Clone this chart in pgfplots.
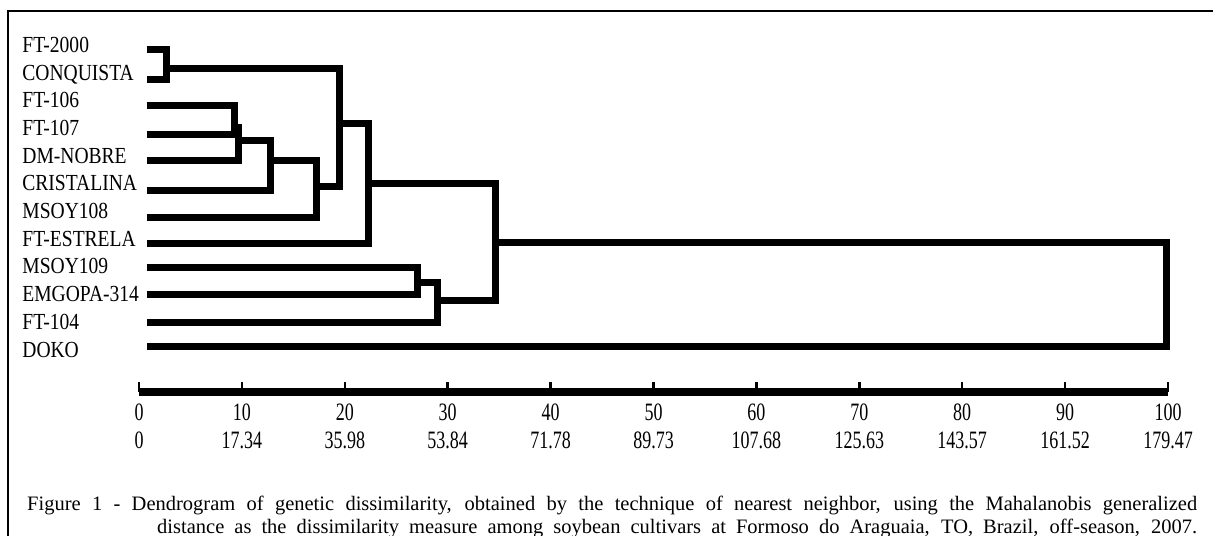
\documentclass[border=0pt]{standalone}
\usepackage{fontspec}
\setmainfont{Liberation Serif}
\newfontfamily\leaffont[FakeStretch=0.85]{Liberation Serif}
\newfontfamily\tickfont[FakeStretch=0.72]{Liberation Serif}
\usepackage{pgfplots}
\pgfplotsset{compat=1.18}
\newcommand{\tl}[2]{\begin{tabular}[t]{@{}c@{}}#1\\#2\end{tabular}}
\tikzset{link/.style={black, solid, line width=7bp, line join=miter, mark=none}}
\begin{document}
\begin{tikzpicture}
\useasboundingbox (0,0) rectangle (1213bp,-536bp);
% frame of the figure
\draw[line width=1.5bp] (8bp,-600bp) -- (8bp,-11bp) -- (1300bp,-11bp);
\begin{axis}[
  at={(139bp,0)}, anchor=north west,
  width=1029bp, height=392bp, scale only axis,
  xmin=0, xmax=100, ymin=-392, ymax=0,
  clip=false,
  axis x line=bottom, axis y line=left,
  axis line style={-},
  x axis line style={line width=8bp},
  y axis line style={draw=none},
  xtick={0,10,...,100},
  xticklabels={\tl{0}{0},\tl{10}{17.34},\tl{20}{35.98},\tl{30}{53.84},\tl{40}{71.78},
    \tl{50}{89.73},\tl{60}{107.68},\tl{70}{125.63},\tl{80}{143.57},\tl{90}{161.52},\tl{100}{179.47}},
  xtick align=inside,
  major tick length=10bp,
  xtick style={line width=2.5bp, black},
  ytick style={draw=none},
  xticklabel style={anchor=base, yshift=-28bp, inner sep=0pt,
    font=\tickfont\fontsize{25bp}{28bp}\selectfont},
  ytick={-52.3,-80.0,-107.7,-135.4,-163.1,-190.8,-218.5,-246.2,-273.9,-301.6,-329.3,-357.0},
  yticklabels={FT-2000,CONQUISTA,FT-106,FT-107,DM-NOBRE,CRISTALINA,MSOY108,FT-ESTRELA,
    MSOY109,EMGOPA-314,FT-104,DOKO},
  yticklabel style={anchor=base west, inner sep=0pt, xshift=-111.8bp,
    font=\leaffont\fontsize{23bp}{26bp}\selectfont},
]
% FT-2000 + CONQUISTA
\addplot[link] coordinates {(0.75,-49.3) (2.69,-49.3) (2.69,-79.7) (0.75,-79.7)};
% FT-106 + FT-107
\addplot[link] coordinates {(0.75,-105) (9.26,-105) (9.26,-134.7) (0.75,-134.7)};
% + DM-NOBRE
\addplot[link] coordinates {(9.26,-127) (9.69,-127) (9.69,-160.7) (0.75,-160.7)};
% + CRISTALINA
\addplot[link] coordinates {(9.69,-140) (12.8,-140) (12.8,-190) (0.75,-190)};
% + MSOY108
\addplot[link] coordinates {(12.8,-160) (17.23,-160) (17.23,-217) (0.75,-217)};
% (FT-2000, CONQUISTA) + rest
\addplot[link] coordinates {(2.69,-68.3) (19.47,-68.3) (19.47,-186.7) (17.23,-186.7)};
% + FT-ESTRELA
\addplot[link] coordinates {(19.47,-123.3) (22.35,-123.3) (22.35,-243.3) (0.75,-243.3)};
% MSOY109 + EMGOPA-314
\addplot[link] coordinates {(0.75,-267) (27.08,-267) (27.08,-294.7) (0.75,-294.7)};
% + FT-104
\addplot[link] coordinates {(27.08,-282) (29.03,-282) (29.03,-322) (0.75,-322)};
% two main groups
\addplot[link] coordinates {(22.35,-183.3) (34.6,-183.3) (34.6,-300) (29.03,-300)};
% + DOKO
\addplot[link] coordinates {(34.6,-242.7) (99.9,-242.7) (99.9,-346.7) (0.75,-346.7)};
\end{axis}
\node[anchor=base west, inner sep=0pt] at (27bp,-510bp) {\begin{minipage}[t]{1170bp}%
\fontsize{20.5bp}{23bp}\selectfont\hangindent=130bp\hangafter=1\parfillskip=0pt
\noindent Figure 1 - Dendrogram of genetic dissimilarity, obtained by the technique of nearest neighbor, using the Mahalanobis generalized\linebreak distance as the dissimilarity measure among soybean cultivars at Formoso do Araguaia, TO, Brazil, off-season, 2007.\end{minipage}};
\end{tikzpicture}
\end{document}
